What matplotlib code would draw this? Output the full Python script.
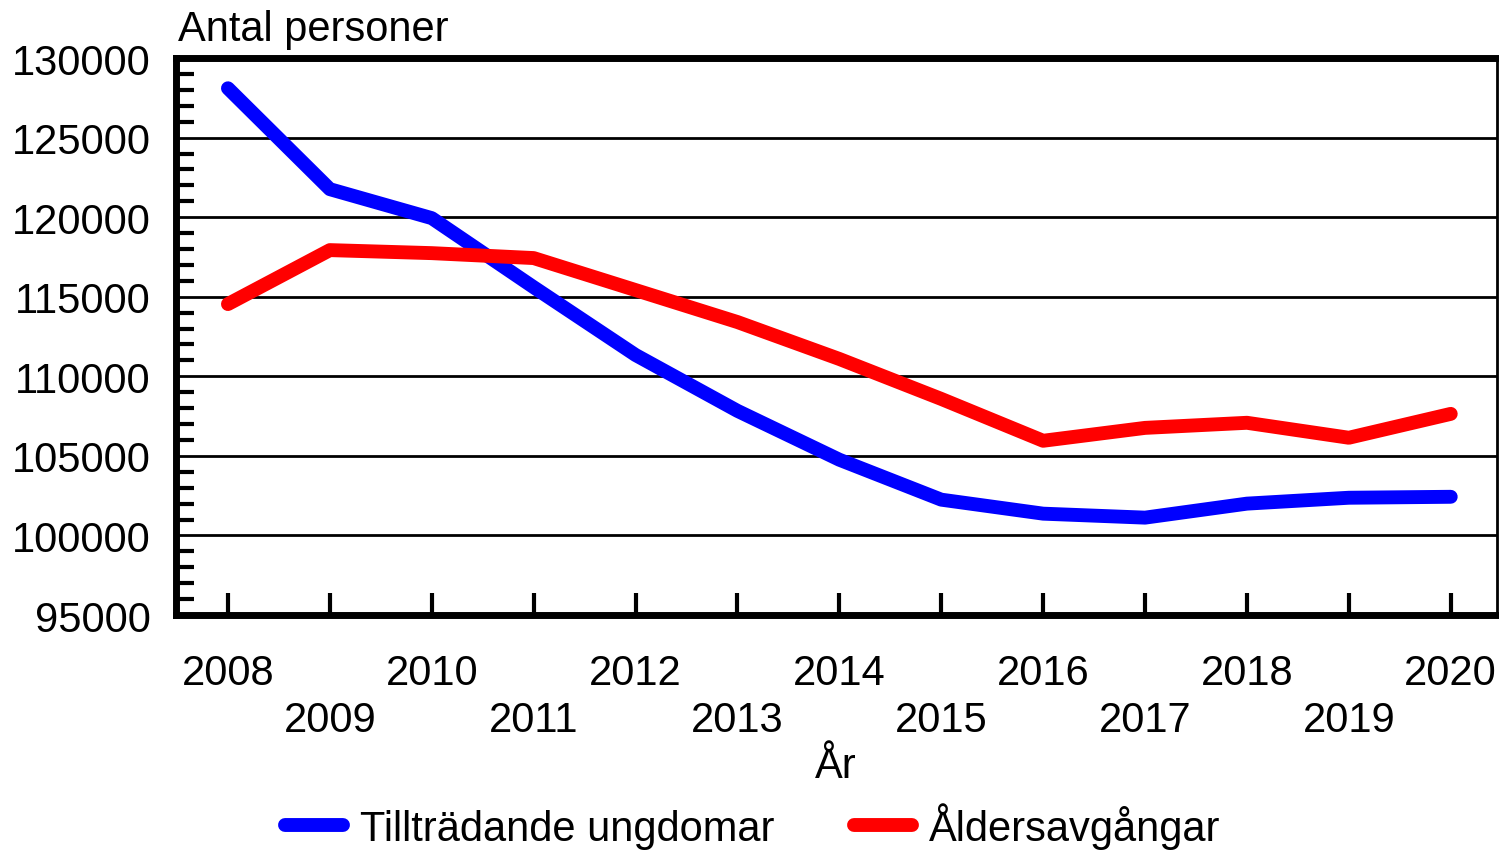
import numpy as np
import matplotlib.pyplot as plt
from matplotlib.ticker import MultipleLocator

plt.rcParams['font.family'] = ['Liberation Sans', 'DejaVu Sans']

years = list(range(2008, 2021))
ungdomar = [128100, 121760, 119940, 115600, 111340, 107830, 104760,
            102250, 101370, 101120, 102000, 102370, 102430]
avgangar = [114540, 117930, 117740, 117430, 115420, 113410, 111090,
            108580, 105950, 106760, 107080, 106140, 107640]
serie_namn = ['Tillträdande ungdomar', 'Åldersavgångar']

fs = 30
fig = plt.figure(figsize=(14.99, 8.53), dpi=100)
ax = fig.add_axes([0.1174, 0.2778, 0.881, 0.653])

ax.plot(years, ungdomar, color='#0000ff', lw=10, solid_capstyle='round',
        solid_joinstyle='round', label=serie_namn[0], zorder=3)
ax.plot(years, avgangar, color='#ff0000', lw=10, solid_capstyle='round',
        solid_joinstyle='round', label=serie_namn[1], zorder=3)

ax.set_xlim(2007.49, 2020.45)
ax.set_ylim(95000, 130000)
ax.yaxis.set_major_locator(MultipleLocator(5000))
ax.yaxis.set_minor_locator(MultipleLocator(1000))
for y in range(100000, 130000, 5000):
    ax.axhline(y, color='black', lw=2, zorder=1)

ax.set_xticks(years)
ax.set_xticklabels([str(y) if y % 2 == 0 else '\n' + str(y) for y in years],
                   fontsize=fs, linespacing=1.25)
ax.tick_params(axis='x', direction='in', length=16, width=3, pad=27)
ax.tick_params(axis='y', which='major', direction='in', length=0, labelsize=fs, pad=18)
ax.tick_params(axis='y', which='minor', direction='in', length=13, width=3)

for s in ['left', 'bottom', 'top']:
    ax.spines[s].set_linewidth(5)
ax.spines['right'].set_linewidth(2)

ax.set_xlabel('År', fontsize=fs, labelpad=4)
fig.text(178 / 1499, 1 - 30 / 853, 'Antal personer', fontsize=fs, ha='left', va='center')

fig.legend(loc='lower center', bbox_to_anchor=(0.502, -0.04), ncol=2, frameon=False,
           fontsize=fs, handlelength=1.4, handletextpad=0.4, columnspacing=1.9)

fig.savefig('out.png', dpi=100)
